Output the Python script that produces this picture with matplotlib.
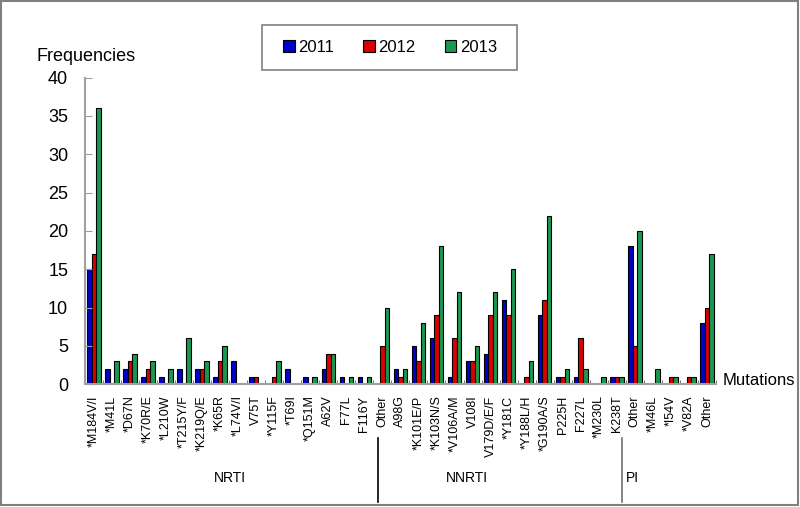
import numpy as np
import matplotlib
matplotlib.use('Agg')
import matplotlib.pyplot as plt
from matplotlib.lines import Line2D
from matplotlib.patches import Rectangle

plt.rcParams['font.family'] = ['Liberation Sans', 'DejaVu Sans']

mutations = ["*M184V/I", "*M41L", "*D67N", "*K70R/E", "*L210W", "*T215Y/F", "*K219Q/E",
             "*K65R", "*L74V/I", "V75T", "*Y115F", "*T69I", "*Q151M", "A62V", "F77L",
             "F116Y", "Other",
             "A98G", "*K101E/P", "*K103N/S", "*V106A/M", "V108I", "V179D/E/F", "*Y181C",
             "*Y188L/H", "*G190A/S", "P225H", "F227L", "*M230L", "K238T", "Other",
             "*M46L", "*I54V", "*V82A", "Other"]

y2011 = [15, 2, 2, 1, 1, 2, 2, 1, 3, 1, 0, 2, 1, 2, 1, 1, 0,
         2, 5, 6, 1, 3, 4, 11, 0, 9, 1, 1, 0, 1, 18,
         0, 0, 0, 8]
y2012 = [17, 0, 3, 2, 0, 0, 2, 3, 0, 1, 1, 0, 0, 4, 0, 0, 5,
         1, 3, 9, 6, 3, 9, 9, 1, 11, 1, 6, 0, 1, 5,
         0, 1, 1, 10]
y2013 = [36, 3, 4, 3, 2, 6, 3, 5, 0, 0, 3, 0, 1, 4, 1, 1, 10,
         2, 8, 18, 12, 5, 12, 15, 3, 22, 2, 2, 1, 1, 20,
         2, 1, 1, 17]

years = ["2011", "2012", "2013"]
groups = ["NRTI", "NNRTI", "PI"]

colors = ['#0000c8', '#dc0000', '#1a9850']

fig = plt.figure(figsize=(8, 5.07), dpi=100)
ax = fig.add_axes([0.106, 0.242, 0.789, 0.605])

x = np.arange(len(mutations))
w = 0.25
for k, vals in enumerate([y2011, y2012, y2013]):
    ax.bar(x + (k - 1) * w, vals, width=w, color=colors[k], edgecolor='black',
           linewidth=0.8, label=years[k])

ax.set_xlim(-0.5, len(mutations) - 0.5)
ax.set_ylim(0, 40)
ax.set_yticks(range(0, 41, 5))
ax.tick_params(axis='y', direction='in', length=5, color='#a0a0a0', labelsize=13, pad=12)
ax.set_xticks(x)
ax.set_xticklabels(mutations, rotation=90, fontsize=9)
ax.tick_params(axis='x', length=0, pad=8)
ax.set_xticks(np.arange(len(mutations) + 1) - 0.5, minor=True)
ax.tick_params(axis='x', which='minor', direction='in', length=3, color='#606060')

for s in ['top', 'right']:
    ax.spines[s].set_visible(False)
for s in ['left', 'bottom']:
    ax.spines[s].set_color('#a0a0a0')
    ax.spines[s].set_linewidth(1.5)

fig.text(0.046, 0.888, "Frequencies", fontsize=13, ha='left', va='center')
fig.text(0.903, 0.25, "Mutations", fontsize=12, ha='left', va='center')

for name, px in zip(groups, [230, 467, 632]):
    fig.text(px / 800, 1 - 478 / 507, name, fontsize=10, ha='center', va='center')

fig.add_artist(Line2D([378 / 800, 378 / 800], [1 - 438 / 507, 1 - 502 / 507], color='black', lw=1.2))
fig.add_artist(Line2D([622 / 800, 622 / 800], [1 - 438 / 507, 1 - 502 / 507], color='#707070', lw=1.2))

# legend without frame, frame drawn separately
fig.legend(loc='center', bbox_to_anchor=(390 / 800, 1 - 47.5 / 507), ncol=3, fontsize=12,
           frameon=False, handlelength=0.7, handleheight=0.7, handletextpad=0.2,
           columnspacing=1.75, borderpad=0, borderaxespad=0)
fig.add_artist(Rectangle((262 / 800, 1 - 70 / 507), 255 / 800, 45 / 507, fill=False,
                         edgecolor='#808080', lw=1.2, transform=fig.transFigure))

fig.add_artist(Rectangle((0.001, 0.004), 0.997, 0.994, fill=False, edgecolor='#808080',
                         lw=1.5, transform=fig.transFigure))

fig.savefig('out.png', dpi=100)
